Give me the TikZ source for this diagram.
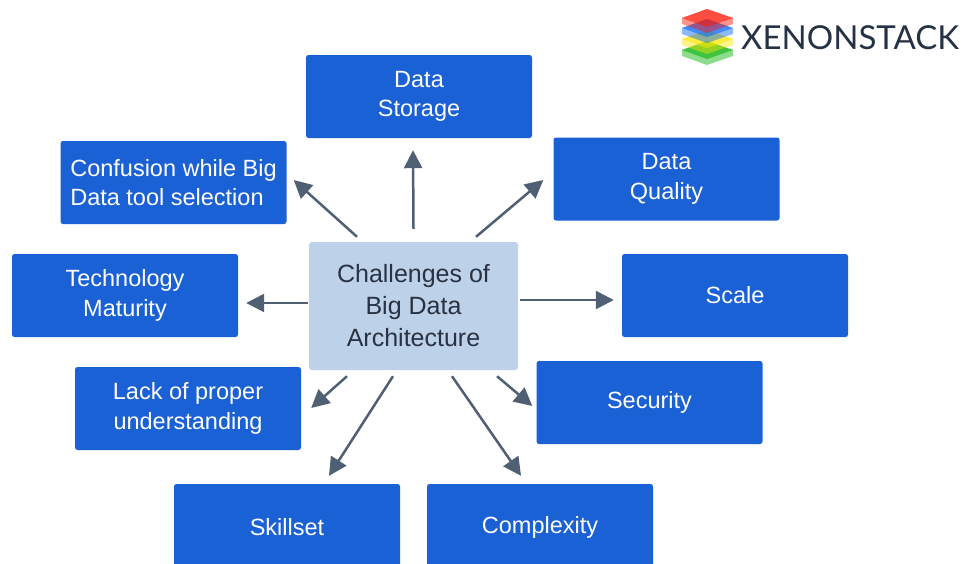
\documentclass[tikz,border=0pt]{standalone}
\usepackage{fontspec}
\setmainfont{Liberation Sans}
\newfontfamily\logofont{Lato}
\usetikzlibrary{arrows.meta}
\definecolor{boxblue}{RGB}{26,97,214}
\definecolor{paleblue}{RGB}{189,210,233}
\definecolor{arrowgrey}{RGB}{80,96,116}
\definecolor{inkdark}{RGB}{40,50,66}
\definecolor{logoink}{RGB}{37,50,68}
\tikzset{>={Triangle[length=18pt,width=18pt]}}
\tikzset{
    challenge/.style={fill=boxblue,text=white,rounded corners=2.5pt,minimum width=226pt,
        minimum height=83pt,align=center,inner sep=0pt,font=\fontsize{23.5}{29.5}\selectfont},
    hub/.style={fill=paleblue,text=inkdark,rounded corners=3pt,minimum width=209pt,
        minimum height=128pt,align=center,inner sep=0pt,font=\fontsize{25}{32}\selectfont},
    link/.style={->,draw=arrowgrey,line width=2.5pt}
}

\begin{document}
\begin{tikzpicture}[x=1pt,y=-1pt]
    \clip (0,0) rectangle (977,563);
    \fill[white] (0,0) rectangle (977,563);
    % logo layers
    \foreach \y/\layer in {41/green!70!black,30/yellow!90!orange,19/blue!60!cyan,9/red!85!orange} {
        \fill[fill=\layer,fill opacity=.45]
        (707,\y) -- (682,\y+9) -- (682,\y+15) -- (707,\y+24) -- (733,\y+15) -- (733,\y+9) -- cycle;
        \fill[fill=\layer,fill opacity=.55]
        (707,\y) -- (682,\y+9) -- (707,\y+18) -- (733,\y+9) -- cycle;
      }
    \node[anchor=west,inner sep=0pt,text=logoink,font=\logofont\fontsize{33}{33}\selectfont] (logo)
    at (741,38) {XENONSTACK};

    \node[hub] (challenges) at (413.5,306) {Challenges of\\Big Data\\Architecture};

    \node[challenge] (storage) at (419,96.5) {Data\\Storage};
    \node[challenge] (quality) at (666.5,179) {Data\\Quality};
    \node[challenge,align=left] (confusion) at (173.5,182.5) {Confusion while Big\\Data tool selection};
    \node[challenge] (maturity) at (125,295.5) {Technology\\Maturity};
    \node[challenge] (scale) at (735,295.5) {Scale};
    \node[challenge] (understanding) at (188,408.5) {Lack of proper\\understanding};
    \node[challenge] (security) at (649.5,402.5) {Security};
    \node[challenge,minimum height=86pt] (skillset) at (287,527) {Skillset};
    \node[challenge,minimum height=86pt] (complexity) at (540,527) {Complexity};

    \draw[link] ([shift={(0,-13)}]challenges.north) -- ([shift={(-6,12)}]storage.south);
    \draw[link] ([shift={(62.5,-5)}]challenges.north) -- ([shift={(-10,1)}]quality.west);
    \draw[link] ([shift={(-56.5,-5)}]challenges.north) -- ([shift={(7,-2.5)}]confusion.east);
    \draw[link] ([shift={(-1,-3)}]challenges.west) -- ([shift={(8,7.5)}]maturity.east);
    \draw[link] ([shift={(2,-6)}]challenges.east) -- ([shift={(-8,4.5)}]scale.west);
    \draw[link] ([shift={(-66.5,6)}]challenges.south) -- ([shift={(10,-.5)}]understanding.east);
    \draw[link] ([shift={(-20.5,6)}]challenges.south) -- ([shift={(42,-8)}]skillset.north);
    \draw[link] ([shift={(38.5,6)}]challenges.south) -- ([shift={(-19,-8)}]complexity.north);
    \draw[link] ([shift={(83.5,6)}]challenges.south) -- ([shift={(-4,3.5)}]security.west);
  \end{tikzpicture}
\end{document}
